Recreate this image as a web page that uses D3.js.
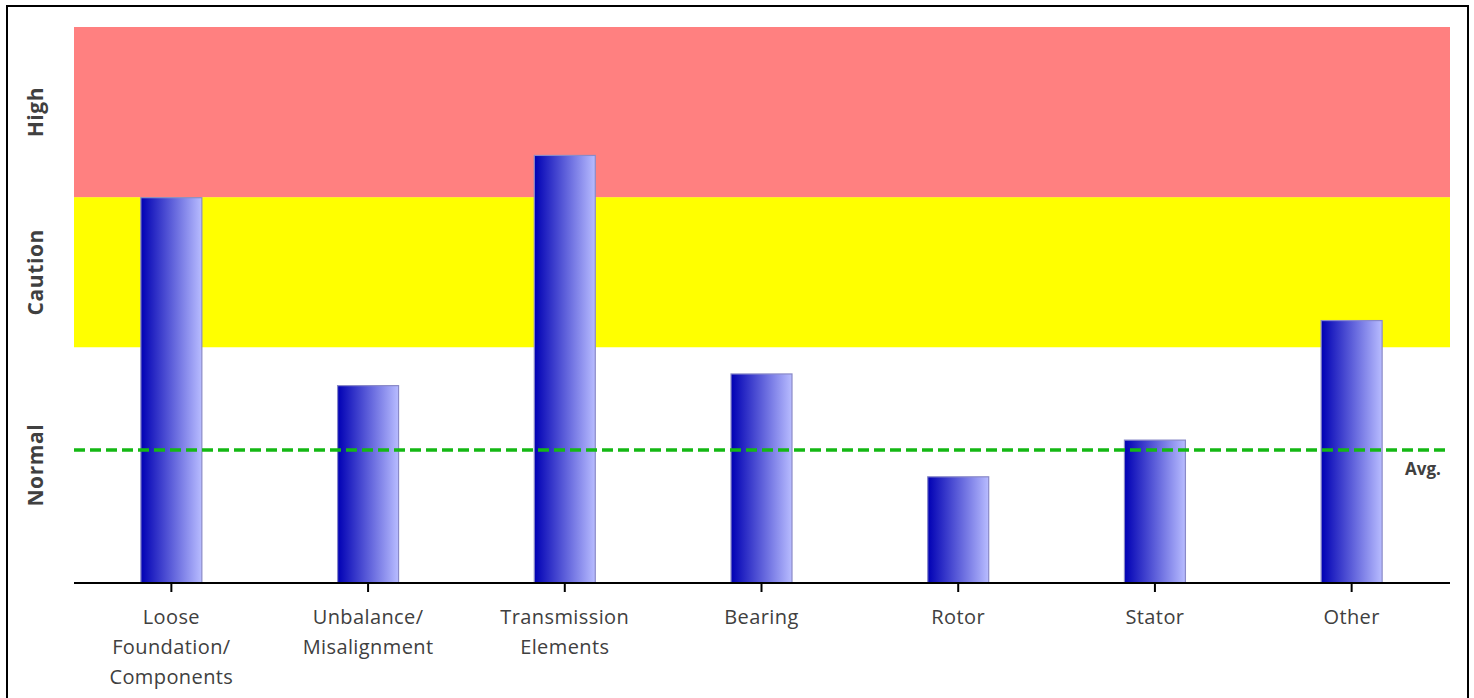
<!DOCTYPE html>
<html>
<head>
<meta charset="utf-8">
<script src="https://cdn.jsdelivr.net/npm/d3@7"></script>
<style>
  html, body { margin: 0; padding: 0; background: #fff; }
  svg { display: block; }
</style>
</head>
<body>
<svg id="chart" width="1474" height="698"></svg>
<script>
// ---- data ----
const categories = ["Loose\nFoundation/\nComponents", "Unbalance/\nMisalignment", "Transmission\nElements", "Bearing", "Rotor", "Stator", "Other"];
const values = [69.3, 35.5, 76.9, 37.6, 19.1, 25.7, 47.2];
const avgValue = 23.9;
const zoneNames = ["Normal", "Caution", "High"];
const zoneFrom = [0, 42.4, 69.4];
const zoneTo = [42.4, 69.4, 100];
const zoneColors = ["#ffffff", "#ffff00", "#ff8080"];

// ---- layout ----
const svg = d3.select("#chart");
const margin = { left: 74, right: 24, top: 27, bottom: 115 };
const W = 1474, H = 698;
const x0 = margin.left, x1 = W - margin.right;
const yBase = H - margin.bottom;

const x = d3.scaleBand().domain(categories).range([x0 - 1, x1]).paddingInner(0.69).paddingOuter(0.345);
const y = d3.scaleLinear().domain([0, 100]).range([yBase, margin.top]);

// frame
svg.append("rect").attr("x", 7).attr("y", 6).attr("width", 1461).attr("height", 720)
  .attr("fill", "none").attr("stroke", "#000").attr("stroke-width", 2);

// gradient
const defs = svg.append("defs");
const grad = defs.append("linearGradient").attr("id", "barGrad").attr("x1", "0%").attr("x2", "100%");
grad.append("stop").attr("offset", "0%").attr("stop-color", "#0000b4");
grad.append("stop").attr("offset", "100%").attr("stop-color", "#b8bcff");

// zones
svg.append("g").selectAll("rect").data(zoneNames).join("rect")
  .attr("x", x0).attr("width", x1 - x0)
  .attr("y", (d, i) => y(zoneTo[i]))
  .attr("height", (d, i) => y(zoneFrom[i]) - y(zoneTo[i]))
  .attr("fill", (d, i) => zoneColors[i]);

// zone labels
svg.append("g").selectAll("text").data(zoneNames).join("text")
  .attr("transform", (d, i) => `translate(43, ${(y(zoneFrom[i]) + y(zoneTo[i])) / 2}) rotate(-90)`)
  .attr("text-anchor", "middle")
  .attr("font-family", "'Open Sans', sans-serif")
  .attr("font-weight", "bold")
  .attr("font-size", 21)
  .attr("letter-spacing", 0.6)
  .attr("fill", "#404040")
  .text(d => d);

// bars
svg.append("g").selectAll("rect").data(values).join("rect")
  .attr("x", (d, i) => x(categories[i]))
  .attr("width", x.bandwidth())
  .attr("y", d => y(d))
  .attr("height", d => yBase - y(d))
  .attr("fill", "url(#barGrad)")
  .attr("stroke", "#8a8ac8")
  .attr("stroke-width", 1.2);

// x axis
const axis = svg.append("g").attr("transform", `translate(0, ${yBase})`)
  .call(d3.axisBottom(x).tickSize(9).tickSizeOuter(0).tickFormat(""));
axis.select(".domain").attr("d", `M${x0},0H${x1}`).attr("stroke", "#000").attr("stroke-width", 2);
axis.selectAll(".tick line").attr("stroke", "#000").attr("stroke-width", 2);

// category labels
const lbl = svg.append("g").selectAll("text").data(categories).join("text")
  .attr("x", d => x(d) + x.bandwidth() / 2)
  .attr("y", yBase + 41)
  .attr("text-anchor", "middle")
  .attr("font-family", "'Open Sans', sans-serif")
  .attr("font-size", 20)
  .attr("letter-spacing", 0.4)
  .attr("fill", "#404040");
lbl.each(function (d) {
  const t = d3.select(this);
  d.split("\n").forEach((line, k) => {
    t.append("tspan").attr("x", x(d) + x.bandwidth() / 2).attr("dy", k === 0 ? 0 : 30).text(line);
  });
});

// average line
svg.append("line")
  .attr("x1", x0).attr("x2", x1 - 3)
  .attr("y1", y(avgValue)).attr("y2", y(avgValue))
  .attr("stroke", "#14b814").attr("stroke-width", 3.5)
  .attr("stroke-dasharray", "11,5");
svg.append("text")
  .attr("x", 1423).attr("y", y(avgValue) + 25)
  .attr("text-anchor", "middle")
  .attr("font-family", "'Open Sans', sans-serif")
  .attr("font-weight", "bold")
  .attr("font-size", 17)
  .attr("fill", "#404040")
  .text("Avg.");
</script>
</body>
</html>
